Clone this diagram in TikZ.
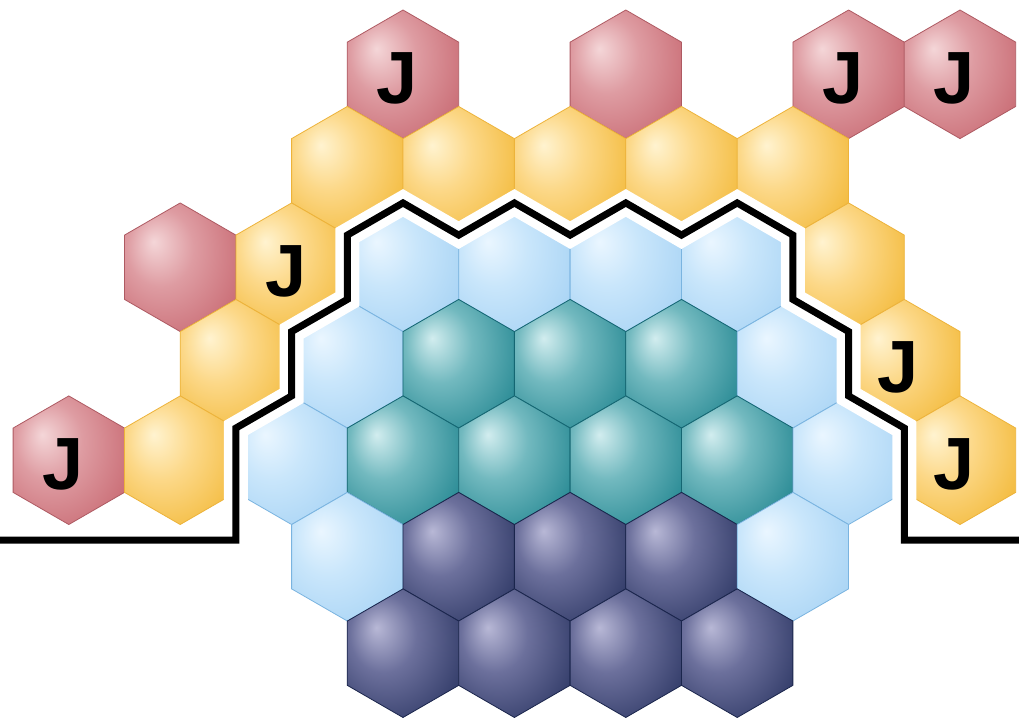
\documentclass[tikz,border=0pt]{standalone}
\usepackage{fontspec}
\setmainfont{Liberation Sans}
\usetikzlibrary{shapes.geometric}

\definecolor{redA}{HTML}{F4D6D8}
\definecolor{redM}{HTML}{DE9CA2}
\definecolor{redB}{HTML}{C5626B}
\definecolor{redC}{HTML}{AE5A62}
\definecolor{yelA}{HTML}{FFF3D0}
\definecolor{yelM}{HTML}{FCD888}
\definecolor{yelB}{HTML}{F1B42C}
\definecolor{yelC}{HTML}{EDB33A}
\definecolor{lblA}{HTML}{EAF6FF}
\definecolor{lblM}{HTML}{C9E6FB}
\definecolor{lblB}{HTML}{A2D0F3}
\definecolor{lblC}{HTML}{7AB4E0}
\definecolor{tealA}{HTML}{D2EDEF}
\definecolor{tealM}{HTML}{72B9BF}
\definecolor{tealB}{HTML}{19808B}
\definecolor{tealC}{HTML}{146672}
\definecolor{navA}{HTML}{B8B8D6}
\definecolor{navM}{HTML}{6C709C}
\definecolor{navB}{HTML}{25305D}
\definecolor{navC}{HTML}{1A254C}

\pgfdeclareradialshading{shR}{\pgfpoint{-12bp}{10bp}}{color(0bp)=(redA); color(15bp)=(redM); color(40bp)=(redB); color(60bp)=(redB)}
\pgfdeclareradialshading{shY}{\pgfpoint{-12bp}{10bp}}{color(0bp)=(yelA); color(15bp)=(yelM); color(40bp)=(yelB); color(60bp)=(yelB)}
\pgfdeclareradialshading{shL}{\pgfpoint{-12bp}{10bp}}{color(0bp)=(lblA); color(15bp)=(lblM); color(40bp)=(lblB); color(60bp)=(lblB)}
\pgfdeclareradialshading{shT}{\pgfpoint{-12bp}{10bp}}{color(0bp)=(tealA); color(15bp)=(tealM); color(40bp)=(tealB); color(60bp)=(tealB)}
\pgfdeclareradialshading{shN}{\pgfpoint{-12bp}{10bp}}{color(0bp)=(navA); color(15bp)=(navM); color(40bp)=(navB); color(60bp)=(navB)}

\tikzset{
  hexbase/.style={regular polygon, regular polygon sides=6, shape border rotate=30,
    minimum size=128.6pt, inner sep=0pt, outer sep=0pt, line width=0.8pt},
  hexR/.style={hexbase, draw=redC, shading=shR},
  hexY/.style={hexbase, draw=yelC, shading=shY},
  hexL/.style={hexbase, draw=lblC, shading=shL},
  hexT/.style={hexbase, draw=tealC, shading=shT},
  hexN/.style={hexbase, draw=navC, shading=shN},
  jtxt/.style={inner sep=0pt, font=\bfseries\fontsize{74}{74}\selectfont, text=black},
  halo/.style={line width=24pt, white, line join=miter},
  bound/.style={line width=7pt, black, line join=miter}
}

\begin{document}
\begin{tikzpicture}[x=1pt,y=-1pt]
\useasboundingbox[fill=white] (0,0) rectangle (1019,718);
\foreach \r/\c/\s/\j in {
  0/3/hexR/1, 0/5/hexR/0, 0/7/hexR/1, 0/8/hexR/1,
  1/2/hexY/0, 1/3/hexY/0, 1/4/hexY/0, 1/5/hexY/0, 1/6/hexY/0,
  2/1/hexR/0, 2/2/hexY/1, 2/3/hexL/0, 2/4/hexL/0, 2/5/hexL/0, 2/6/hexL/0, 2/7/hexY/0,
  3/1/hexY/0, 3/2/hexL/0, 3/3/hexT/0, 3/4/hexT/0, 3/5/hexT/0, 3/6/hexL/0, 3/7/hexY/1,
  4/0/hexR/1, 4/1/hexY/0, 4/2/hexL/0, 4/3/hexT/0, 4/4/hexT/0, 4/5/hexT/0, 4/6/hexT/0, 4/7/hexL/0, 4/8/hexY/1,
  5/2/hexL/0, 5/3/hexN/0, 5/4/hexN/0, 5/5/hexN/0, 5/6/hexL/0,
  6/3/hexN/0, 6/4/hexN/0, 6/5/hexN/0, 6/6/hexN/0}{
  \pgfmathsetmacro\hx{68.8+111.4*\c+55.7*mod(\r,2)}
  \pgfmathsetmacro\hy{74.3+96.48*\r}
  \node[\s] (h\r-\c) at (\hx,\hy) {};
  \ifnum\j=1
    \node[jtxt] (j\r-\c) at ([xshift=-6pt,yshift=-4pt]h\r-\c.center) {J};
  \fi
}
\foreach \st in {halo,bound}{
\draw[\st] (0,540) -- (235.9,540) -- (235.9,428.06) -- (291.6,395.9) -- (291.6,331.58)
  -- (347.3,299.42) -- (347.3,235.1) -- (403,202.94) -- (458.7,235.1) -- (514.4,202.94)
  -- (570.1,235.1) -- (625.8,202.94) -- (681.5,235.1) -- (737.2,202.94) -- (792.9,235.1)
  -- (792.9,299.42) -- (848.6,331.58) -- (848.6,395.9) -- (904.3,428.06) -- (904.3,540)
  -- (1019,540);
}
\end{tikzpicture}
\end{document}
